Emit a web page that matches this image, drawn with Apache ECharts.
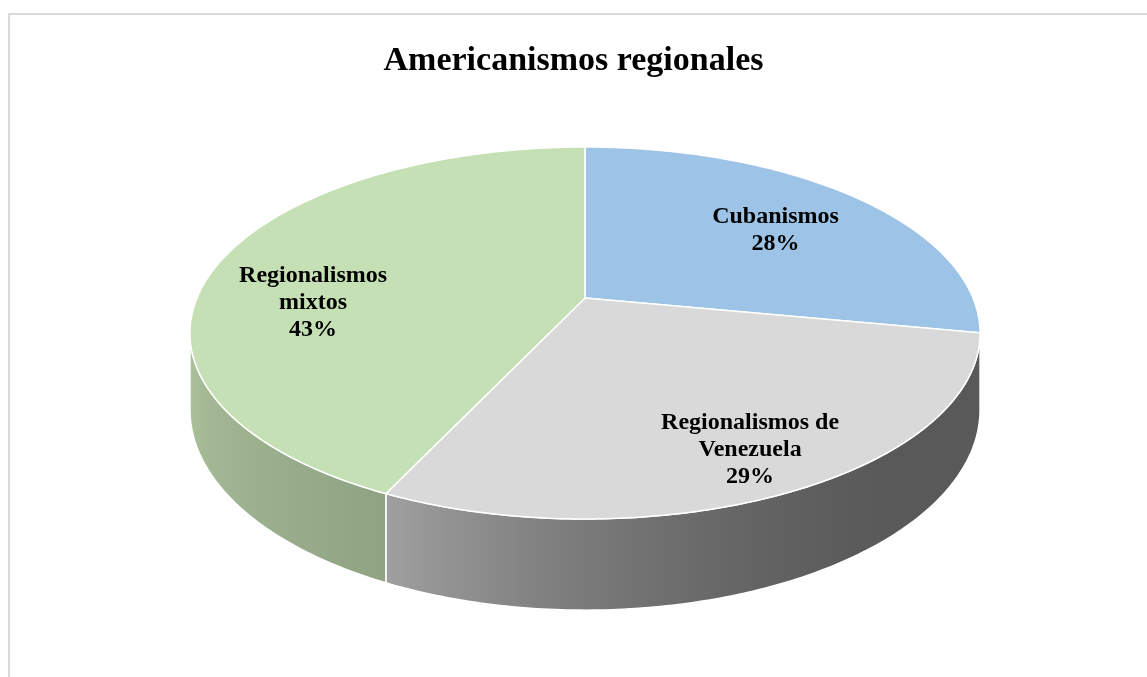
<!DOCTYPE html>
<html><head><meta charset="utf-8">
<script src="https://cdn.jsdelivr.net/npm/echarts@6/dist/echarts.min.js"></script>
<style>html,body{margin:0;padding:0;background:#fff}#c{width:1147px;height:677px}</style>
</head><body><div id="c"></div>
<script>
const categories = ['Cubanismos', 'Regionalismos de Venezuela', 'Regionalismos mixtos'];
const labelNames = ['Cubanismos', 'Regionalismos de\nVenezuela', 'Regionalismos\nmixtos'];
const values = [28, 29, 43];
const sliceColors = ['#9dc3e6', '#d9d9d9', '#c5e0b4'];

// geometry / style config (not data)
const GEO = {cx: 585, cy: 298, rx: 388, ry: 179.4, depth: 74, k: 5.314};
const LABEL = {frac: [0.69, 0.81, 0.74], dy: [5, 2, 33]};
const SHADE = [[100.8, 0.41], [140, 0.41], [160, 0.46], [180, 0.56], [205, 0.73], [259.2, 0.87]];

const total = values.reduce((a, b) => a + b, 0);
const starts = []; let acc = 0;
values.forEach(v => { starts.push(acc / total * 360); acc += v; });
const phiS = Math.acos(-1 / GEO.k) * 180 / Math.PI;

function proj(phiDeg, r, h) {
  const p = phiDeg * Math.PI / 180;
  const X = Math.sin(p) * r, Z = Math.cos(p) * r;
  const s = GEO.k / (GEO.k + Z);
  return [GEO.cx + GEO.rx * X * s, GEO.cy - GEO.ry * Z * s + GEO.depth * h * s];
}
function shadeAt(phi) {
  for (let i = 0; i < SHADE.length - 1; i++) {
    const [a, sa] = SHADE[i], [b, sb] = SHADE[i + 1];
    if (phi >= a && phi <= b) return sa + (sb - sa) * (phi - a) / (b - a);
  }
  return phi < SHADE[0][0] ? SHADE[0][1] : SHADE[SHADE.length - 1][1];
}
function hexRgb(h) { return [1, 3, 5].map(i => parseInt(h.substr(i, 2), 16)); }
function scaled(hex, f) { const c = hexRgb(hex).map(v => Math.round(Math.min(255, v * f))); return 'rgb(' + c.join(',') + ')'; }
function arc(a0, a1, r, h) {
  const pts = []; const n = Math.max(2, Math.ceil((a1 - a0) / 0.75));
  for (let j = 0; j <= n; j++) pts.push(proj(a0 + (a1 - a0) * j / n, r, h));
  return pts;
}

function renderWall(params, api) {
  const i = params.dataIndex;
  const a0 = starts[i], a1 = a0 + api.value(0) / total * 360;
  const lo = Math.max(a0, phiS), hi = Math.min(a1, 360 - phiS);
  if (hi <= lo) return {type: 'group', children: []};
  const top = arc(lo, hi, 1, 0), bot = arc(lo, hi, 1, 1).reverse();
  const xa = proj(lo, 1, 0)[0], xb = proj(hi, 1, 0)[0];
  const xl = Math.min(xa, xb), xr = Math.max(xa, xb);
  const stops = [];
  for (let j = 0; j <= 12; j++) {
    const a = lo + (hi - lo) * j / 12;
    const x = proj(a, 1, 0)[0];
    stops.push({offset: xr > xl ? (x - xl) / (xr - xl) : 0, color: scaled(sliceColors[i], shadeAt(a))});
  }
  stops.sort((p, q) => p.offset - q.offset);
  return {
    type: 'polygon',
    shape: {points: top.concat(bot)},
    style: {fill: {type: 'linear', x: xl, y: 0, x2: xr, y2: 0, global: true, colorStops: stops},
            stroke: '#ffffff', lineWidth: 1.5}
  };
}

function renderTop(params, api) {
  const i = params.dataIndex;
  const v = api.value(0);
  const a0 = starts[i], a1 = a0 + v / total * 360;
  const pts = [[GEO.cx, GEO.cy]].concat(arc(a0, a1, 1, 0));
  const mid = (a0 + a1) / 2;
  const lp = proj(mid, LABEL.frac[i], 0);
  return {
    type: 'group',
    children: [
      {type: 'polygon', shape: {points: pts},
       style: {fill: sliceColors[i], stroke: '#ffffff', lineWidth: 1.5}},
      {type: 'text', x: lp[0], y: lp[1] + LABEL.dy[i], z2: 10,
       style: {text: labelNames[i] + '\n' + Math.round(v / total * 100) + '%',
               fill: '#000', font: 'bold 24px "Liberation Serif", "Times New Roman", serif',
               align: 'center', verticalAlign: 'middle', lineHeight: 27}}
    ]
  };
}

const chart = echarts.init(document.getElementById('c'), null, {renderer: 'canvas'});
const seriesData = values.map((v, i) => ({name: categories[i], value: [v]}));
chart.setOption({
  animation: false,
  backgroundColor: '#fff',
  title: {
    text: 'Americanismos regionales', left: 'center', top: 36,
    textStyle: {fontFamily: '"Liberation Serif", "Times New Roman", serif', fontWeight: 'bold', fontSize: 34, color: '#000', lineHeight: 40}
  },
  graphic: [{type: 'rect', shape: {x: 9, y: 14, width: 1300, height: 800},
             style: {fill: 'none', stroke: '#d9d9d9', lineWidth: 2}, silent: true, z: -1}],
  series: [
    {type: 'custom', coordinateSystem: 'none', renderItem: renderWall, data: seriesData, z: 1, silent: true},
    {type: 'custom', coordinateSystem: 'none', renderItem: renderTop, data: seriesData, z: 2, silent: true}
  ]
});
</script>
</body></html>
